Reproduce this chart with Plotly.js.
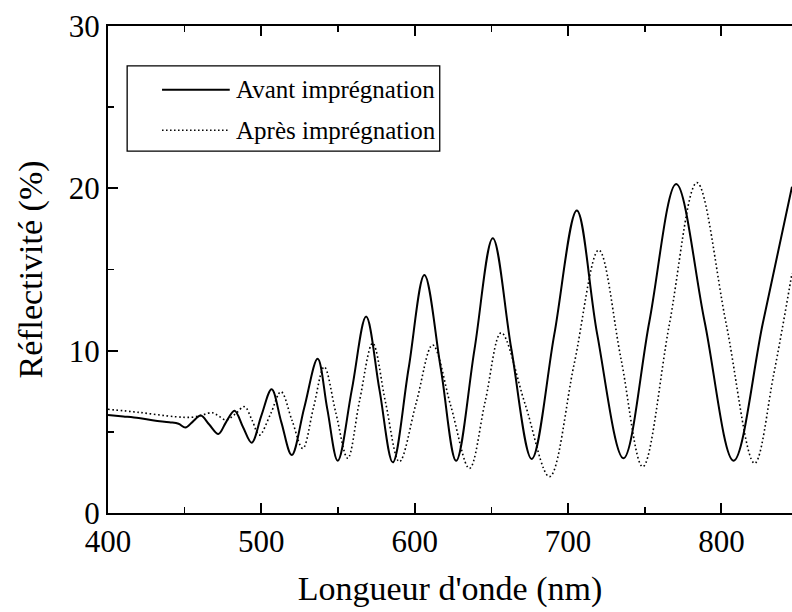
<!DOCTYPE html>
<html>
<head>
<meta charset="utf-8">
<script src="https://cdn.plot.ly/plotly-3.0.1.min.js"></script>
<style>html,body{margin:0;padding:0;background:#fff;}#chart{width:792px;height:612px;}</style>
</head>
<body>
<div id="chart"></div>
<script>
// Avant imprégnation (solid)
const avantX = [400, 410, 420, 430, 440, 446, 450.5, 455, 460.5, 466, 472, 477, 482.5, 488, 493.7, 500, 506.7, 513, 519.8, 528, 536.7, 543, 549.8, 559, 568.3, 577, 585.7, 596, 606.3, 617, 627, 639, 650.9, 663, 676.3, 691, 705.7, 719, 736.1, 753, 770.5, 789, 807.9, 827, 846];
const avantY = [6.04, 5.95, 5.85, 5.7, 5.59, 5.5, 5.26, 5.6, 6.0, 5.45, 4.87, 5.6, 6.3, 5.3, 4.33, 6.0, 7.62, 5.6, 3.57, 6.5, 9.5, 6.4, 3.22, 7.6, 12.1, 7.6, 3.12, 8.9, 14.66, 8.9, 3.22, 10.1, 16.93, 10.1, 3.33, 11.0, 18.63, 11.0, 3.37, 11.8, 20.27, 11.8, 3.22, 11.7, 20.1];
// Après imprégnation (dotted)
const apresX = [400, 420, 444, 455, 462, 468, 472.5, 477, 483, 489, 494, 498.7, 506, 512.8, 520, 527, 534, 541, 548.5, 556.3, 564, 572.6, 581, 590, 601, 611.7, 623.5, 635.7, 646, 656.4, 672, 687.9, 704, 720, 734.5, 748.7, 766, 784, 803, 821.6, 834, 846];
const apresY = [6.39, 6.2, 5.93, 5.9, 6.05, 6.18, 5.95, 5.73, 6.1, 6.55, 5.7, 4.8, 6.1, 7.47, 5.7, 3.98, 6.5, 9.0, 6.2, 3.37, 6.9, 10.46, 6.8, 3.16, 6.8, 10.35, 6.6, 2.75, 6.9, 11.1, 6.7, 2.24, 9.2, 16.2, 9.5, 2.85, 11.6, 20.35, 11.7, 3.06, 8.5, 14.77];

const seriesNames = ["Avant imprégnation", "Après imprégnation"];
const xTickVals = [400, 500, 600, 700, 800];
const yTickVals = [0, 10, 20, 30];
const xTitle = "Longueur d'onde (nm)";
const yTitle = "Réflectivité (%)";

const FONT = "'Liberation Serif', 'Times New Roman', Times, serif";

const traces = [
  {x: avantX, y: avantY, name: seriesNames[0], mode: 'lines', type: 'scatter',
   line: {color: '#000', width: 2, shape: 'spline', smoothing: 1}},
  {x: apresX, y: apresY, name: seriesNames[1], mode: 'lines', type: 'scatter',
   line: {color: '#000', width: 1.6, dash: '1.6px,2.6px', shape: 'spline', smoothing: 1}}
];

// Legend drawn manually in paper coordinates
const lg = {x0: 0.028, x1: 0.485, y0: 0.743, y1: 0.918};
const rowY = [0.869, 0.786];
const shapes = [
  {type: 'rect', xref: 'paper', yref: 'paper', x0: lg.x0, x1: lg.x1, y0: lg.y0, y1: lg.y1,
   line: {color: '#000', width: 1.3}, fillcolor: 'rgba(0,0,0,0)'},
  {type: 'line', xref: 'paper', yref: 'paper', x0: 0.079, x1: 0.178, y0: rowY[0], y1: rowY[0],
   line: {color: '#000', width: 2}},
  {type: 'line', xref: 'paper', yref: 'paper', x0: 0.079, x1: 0.178, y0: rowY[1], y1: rowY[1],
   line: {color: '#000', width: 1.4, dash: '1.5px,2.5px'}}
];
const annotations = seriesNames.map((n, i) => ({
  xref: 'paper', yref: 'paper', x: 0.184, y: rowY[i], xanchor: 'left', yanchor: 'middle',
  text: n, showarrow: false, font: {family: FONT, size: 25, color: '#000'}
}));

const axisCommon = {
  showgrid: false, zeroline: false, showline: true, linecolor: '#000', linewidth: 2,
  ticks: 'inside', ticklen: 10, tickwidth: 2, tickcolor: '#000',
  tickfont: {family: FONT, size: 31, color: '#000'}
};

const layout = {
  width: 792, height: 612,
  margin: {l: 108, r: 0, t: 26, b: 99},
  paper_bgcolor: '#fff', plot_bgcolor: '#fff',
  showlegend: false,
  xaxis: Object.assign({}, axisCommon, {
    mirror: 'ticks',
    range: [400, 846], tickvals: xTickVals, ticktext: xTickVals.map(String),
    minor: {dtick: 50, tick0: 400, ticks: 'inside', ticklen: 6, tickwidth: 1.5, tickcolor: '#000'},
    title: {text: xTitle, font: {family: FONT, size: 34, color: '#000'}, standoff: 18}
  }),
  yaxis: Object.assign({}, axisCommon, {
    mirror: false,
    range: [0, 30], tickvals: yTickVals, ticktext: yTickVals.map(String),
    minor: {dtick: 5, tick0: 0, ticks: 'inside', ticklen: 6, tickwidth: 1.5, tickcolor: '#000'},
    title: {text: yTitle, font: {family: FONT, size: 34, color: '#000'}, standoff: 16}
  }),
  shapes: shapes,
  annotations: annotations
};

Plotly.newPlot('chart', traces, layout, {displayModeBar: false, staticPlot: true});
</script>
</body>
</html>
